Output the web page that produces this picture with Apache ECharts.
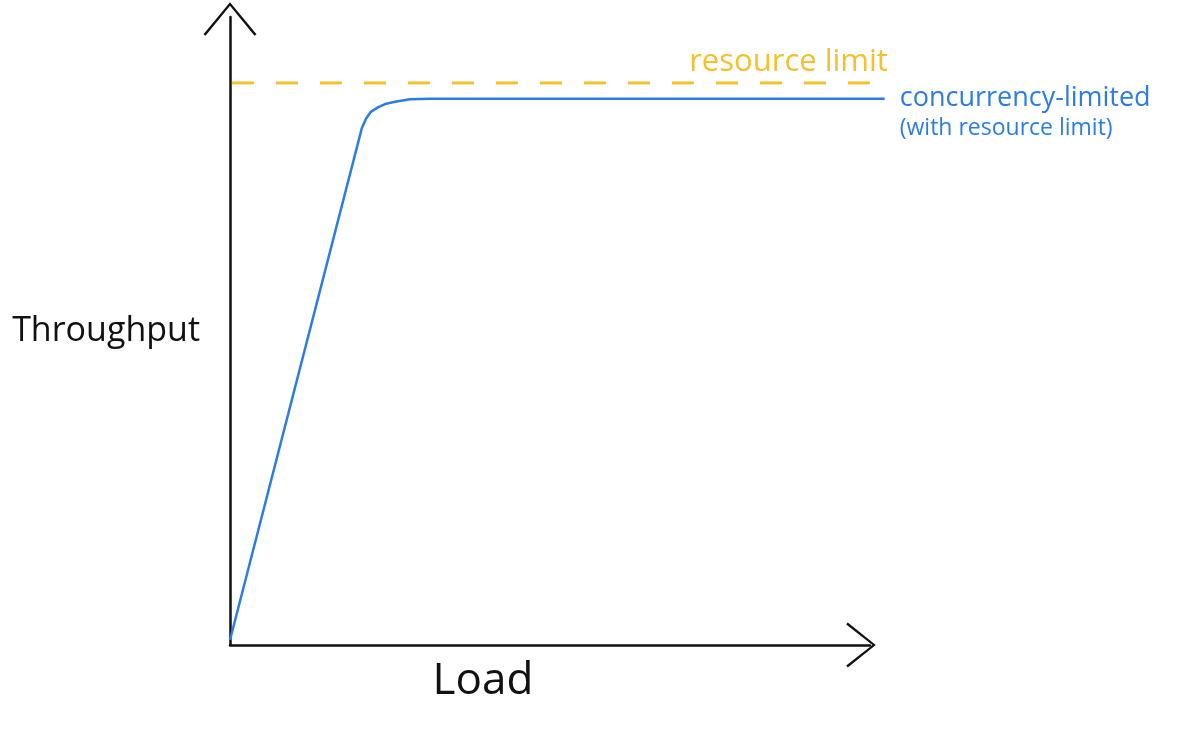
<!DOCTYPE html>
<html>
<head>
<meta charset="utf-8">
<script src="https://cdn.jsdelivr.net/npm/echarts@6/dist/echarts.min.js"></script>
<style>html,body{margin:0;padding:0;background:#fff}#c{width:1182px;height:732px}</style>
</head>
<body>
<div id="c"></div>
<script>
// Data (load, throughput) in arbitrary units, 0..100 axes
const xAxisName = 'Load';
const yAxisName = 'Throughput';
const concurrencyLabel = ['concurrency-limited', '(with resource limit)'];
const resourceLabel = 'resource limit';
const concurrencyLoad = [0, 20.6, 21.25, 22.0, 23.1, 24.4, 25.8, 28.1, 31.3, 102.3];
const concurrencyThroughput = [0.8, 82.3, 83.8, 84.9, 85.6, 86.2, 86.5, 86.9, 87.0, 87.0];
const resourceLoad = [0.3, 102.8];
const resourceThroughput = [89.5, 89.5];

const yChevron = 'path://M0,32 L26.5,0 L53,32 L51,33.5 L26.5,3.4 L2,33.5 Z';
const xChevron = 'path://M0,28 L22.5,0 L45,28 L43,29.5 L22.5,3.3 L2,29.5 Z';
const font = 'Open Sans';
const blue = '#2b7de4';
const yellow = '#f5c02c';

// plotting grid: same scale as the visible axes, just wider so lines may run past the arrow
const axisLen = 640, plotLen = 670;
const plotMax = 100 * plotLen / axisLen;

function buildData(xs, ys, lastLabel) {
  return xs.map((x, i) => {
    const item = { value: [x, ys[i]] };
    item.label = (i === xs.length - 1) ? lastLabel : { show: false };
    return item;
  });
}

const hiddenAxis = { show: false, axisLine: { show: false }, axisTick: { show: false },
  axisLabel: { show: false }, splitLine: { show: false } };

const chart = echarts.init(document.getElementById('c'));
chart.setOption({
  animation: false,
  backgroundColor: '#ffffff',
  grid: [
    { left: 230, width: axisLen, top: 17, bottom: 87 },
    { left: 230, width: plotLen, top: 17, bottom: 87 }
  ],
  xAxis: [{
    type: 'value', min: 0, max: 100, gridIndex: 0,
    name: xAxisName, nameLocation: 'middle', nameGap: 14,
    nameTextStyle: { color: '#111', fontSize: 44, fontFamily: font, padding: [0, 134, 0, 0] },
    axisLine: { show: true, lineStyle: { color: '#111', width: 2.5 },
      symbol: ['none', xChevron], symbolSize: [45, 29.5], symbolOffset: [0, -9] },
    axisTick: { show: false }, axisLabel: { show: false }, splitLine: { show: false }
  }, Object.assign({ type: 'value', min: 0, max: plotMax, gridIndex: 1 }, hiddenAxis)],
  yAxis: [{
    type: 'value', min: 0, max: 100, gridIndex: 0,
    name: yAxisName, nameLocation: 'middle', nameRotate: 0, nameGap: 30,
    nameTextStyle: { color: '#111', fontSize: 34, fontFamily: font, padding: [0, 0, 8, 0] },
    axisLine: { show: true, lineStyle: { color: '#111', width: 2.5 },
      symbol: ['none', yChevron], symbolSize: [53, 33.5], symbolOffset: [0, -2] },
    axisTick: { show: false }, axisLabel: { show: false }, splitLine: { show: false }
  }, Object.assign({ type: 'value', min: 0, max: 100, gridIndex: 1 }, hiddenAxis)],
  series: [
    {
      type: 'line', name: 'resource limit', xAxisIndex: 1, yAxisIndex: 1,
      symbol: 'circle', symbolSize: 0, showSymbol: true,
      itemStyle: { color: yellow },
      data: buildData(resourceLoad, resourceThroughput, {
        show: true, position: 'left', distance: 0, offset: [0, -21],
        formatter: resourceLabel, color: yellow, fontSize: 31, fontFamily: font }),
      lineStyle: { color: yellow, width: 3, type: [22, 22] }
    },
    {
      type: 'line', name: 'concurrency-limited', xAxisIndex: 1, yAxisIndex: 1,
      symbol: 'circle', symbolSize: 0, showSymbol: true,
      itemStyle: { color: blue },
      data: buildData(concurrencyLoad, concurrencyThroughput, {
        show: true, position: 'right', distance: 15, offset: [0, 15], align: 'left',
        formatter: '{a|' + concurrencyLabel[0] + '}\n{b|' + concurrencyLabel[1] + '}',
        rich: { a: { fontSize: 27, lineHeight: 30, fontFamily: font, color: blue },
                b: { fontSize: 23, lineHeight: 30, fontFamily: font, color: blue } } }),
      lineStyle: { color: blue, width: 2.5 }
    }
  ]
});
</script>
</body>
</html>
